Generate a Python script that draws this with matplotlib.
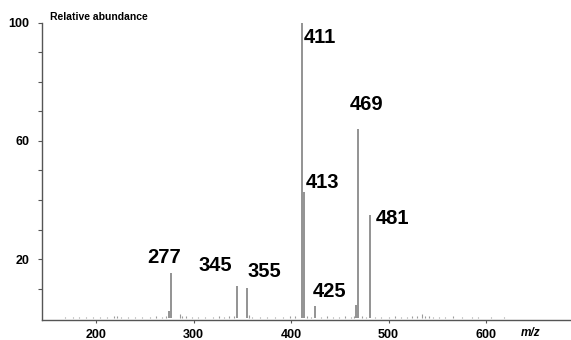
import matplotlib
matplotlib.use("Agg")
import matplotlib.pyplot as plt

# ---- data ----
peak_mz = [275, 277, 345, 355, 411, 413, 425, 467, 469, 481]
peak_int = [2.3, 15.2, 10.8, 10.2, 100, 42.7, 4.0, 4.6, 64.0, 35.0]

labeled_mz = [411, 413, 469, 481, 277, 345, 355, 425]
labeled_int = [100, 42.7, 64.0, 35.0, 15.2, 10.8, 10.2, 4.0]
label_text = ["411", "413", "469", "481", "277", "345", "355", "425"]

noise_mz = [168, 176, 183, 190, 197, 204, 211, 218, 222, 226, 233, 240, 247, 255, 262, 268,
            272, 286, 288, 292, 298, 305, 312, 320, 326, 331, 336, 341, 357, 360, 368, 375,
            383, 392, 399, 404, 416, 420, 431, 437, 443, 449, 455, 461, 464, 473, 477, 486,
            492, 500, 507, 513, 519, 524, 529, 534, 537, 541, 546, 552, 558, 566, 575, 585,
            592, 605, 618]
noise_int = [0.4, 0.3, 0.4, 0.5, 0.3, 0.5, 0.4, 0.6, 0.7, 0.5, 0.4, 0.3, 0.5, 0.4, 0.6, 0.5,
             0.8, 1.3, 0.9, 0.6, 0.4, 0.5, 0.3, 0.4, 0.6, 0.5, 0.7, 0.6, 1.0, 0.5, 0.4, 0.5,
             0.4, 0.5, 0.6, 0.8, 0.7, 0.5, 0.4, 0.6, 0.5, 0.4, 0.6, 0.5, 0.7, 0.6, 0.4, 0.5,
             0.4, 0.5, 0.6, 0.4, 0.5, 0.7, 0.6, 1.5, 0.8, 0.6, 0.5, 0.4, 0.5, 0.6, 0.4, 0.5,
             0.3, 0.4, 0.3]

y_ticks = [20, 60, 100]
x_ticks = [200, 300, 400, 500, 600]

# label offsets in pixels (dx, dy) relative to peak top, plus alignment
label_offsets = [(2, -15, 'left'), (1.5, 9, 'left'), (8, 24, 'center'), (6, -4, 'left'),
                 (-7, 16, 'center'), (-22, 21, 'center'), (17, 17, 'center'), (14, 15, 'center')]

FONT = "Liberation Sans"
fig = plt.figure(figsize=(5.71, 3.40), dpi=100)
ax = fig.add_axes([42 / 571, 1 - 320 / 340, 1 - 42 / 571, (320 - 22.5) / 340])

ax.vlines(noise_mz, 0, noise_int, color="#9a9a9a", linewidth=0.8)
ax.vlines(peak_mz, 0, peak_int, color="#8a8a8a", linewidth=1.3)

for (mz, v, t, (dx, dy, ha)) in zip(labeled_mz, labeled_int, label_text, label_offsets):
    ax.annotate(t, xy=(mz, v), xytext=(dx, dy), textcoords="offset pixels",
                ha=ha, va="center", fontsize=14.5, fontweight="bold", family=FONT)

ax.set_xlim(144.6, 687)
ax.set_ylim(-0.6, 100)

for s in ["top", "right"]:
    ax.spines[s].set_visible(False)
for s in ["left", "bottom"]:
    ax.spines[s].set_color("#555555")
    ax.spines[s].set_linewidth(1.0)

ax.set_yticks(range(10, 101, 10))
ax.set_yticklabels([str(v) if v in y_ticks else "" for v in range(10, 101, 10)])
ax.set_xticks(x_ticks)
ax.set_xticklabels([str(v) for v in x_ticks])
ax.tick_params(axis="y", direction="out", length=3, width=0.8, color="#555555", pad=6)
ax.tick_params(axis="x", direction="out", length=2.5, width=0.8, color="#555555", pad=4)
for lab in ax.get_xticklabels() + ax.get_yticklabels():
    lab.set_fontsize(9)
    lab.set_fontweight("bold")
    lab.set_family(FONT)

fig.text(50 / 571, 1 - 17 / 340, "Relative abundance", fontsize=7.5, fontweight="bold",
         family=FONT, ha="left", va="center")
fig.text(531 / 571, 1 - 333 / 340, "m/z", fontsize=8.5, fontweight="bold", style="italic",
         family=FONT, ha="center", va="center")

fig.savefig("out.png", dpi=100)
